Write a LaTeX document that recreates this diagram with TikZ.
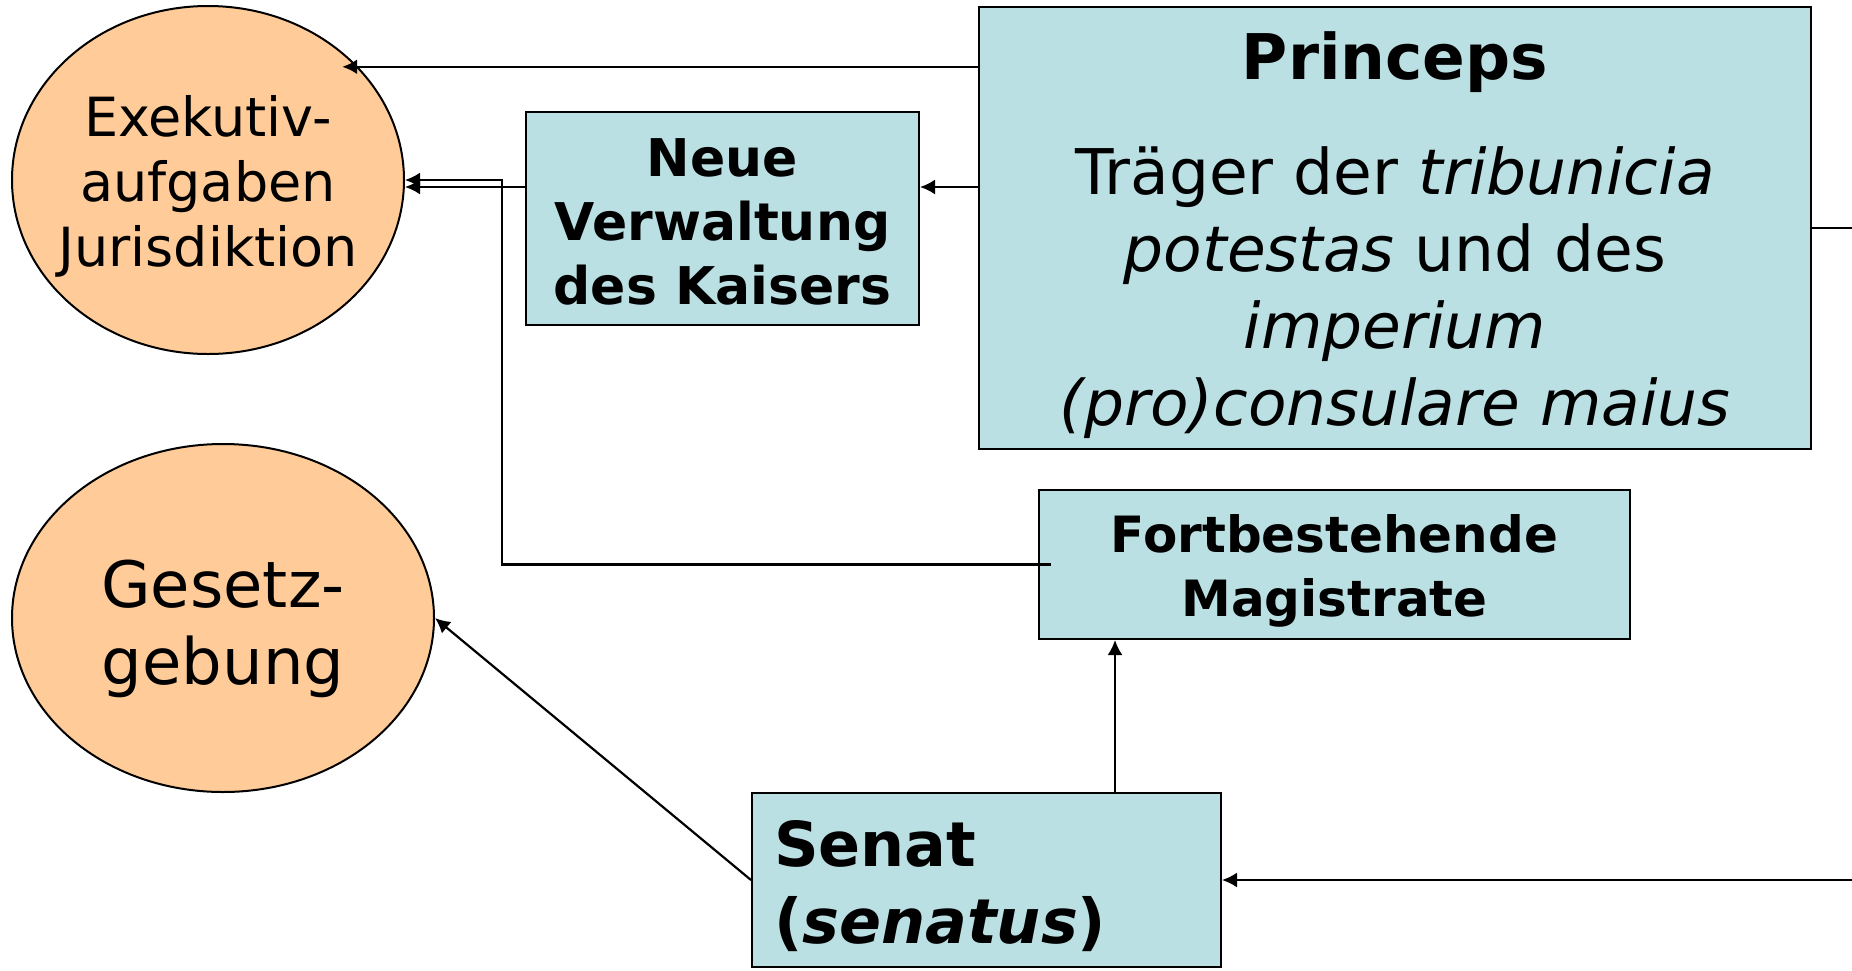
\documentclass[tikz,border=0pt]{standalone}
\usepackage{fontspec}
\setmainfont{DejaVu Sans}
\usetikzlibrary{shapes,arrows.meta}
\definecolor{boxblue}{HTML}{BBE0E3}
\definecolor{peach}{HTML}{FFCC99}
\newcommand{\topgap}[1]{\rule{0pt}{#1}}
\tikzstyle{block} = [rectangle, draw, fill=boxblue, text centered, inner sep=0pt, line width=1pt]
\tikzstyle{line} = [draw, line width=1.1pt, -{Latex[length=7.5pt,width=7.5pt]}]
\tikzstyle{cloud} = [draw, ellipse, fill=peach, inner sep=0pt, line width=1pt, align=center]

\begin{document}
\begin{tikzpicture}[x=0.5pt,y=-0.5pt]
      \useasboundingbox (0,0) rectangle (1852,970);
      \clip (0,0) rectangle (1852,970);

      \node [cloud, inner xsep=-8pt, minimum width=196pt, minimum height=174pt, font=\fontsize{27}{32.5}\selectfont] (exek) at (208,180) {\topgap{26.5pt}Exekutiv-\\aufgaben\\Jurisdiktion};
      \node [cloud, inner xsep=-8pt, minimum width=211pt, minimum height=174pt, font=\fontsize{32}{38.5}\selectfont] (gesetz) at (223,618) {\topgap{35pt}Gesetz-\\gebung};

      \node [block, align=center, minimum width=196.5pt, minimum height=106.5pt, font=\fontsize{26}{32}\selectfont\bfseries] (neue) at (722.5,218.5) {\topgap{22.5pt}Neue\\Verwaltung\\des Kaisers};
      \node [block, align=center, minimum width=416pt, minimum height=221pt, font=\fontsize{31.5}{38.5}\selectfont] (princeps) at (1395,228)
        {\topgap{30.6pt}{\bfseries Princeps}\\[19pt] Träger der \textit{tribunicia}\\ \textit{potestas} und des\\ \textit{imperium}\\ \textit{(pro)consulare maius}};
      \node [block, align=center, minimum width=295.5pt, minimum height=74.5pt, font=\fontsize{25}{32}\selectfont\bfseries] (fort) at (1334.5,564.5) {\topgap{25pt}Fortbestehende\\Magistrate};
      \node [block, align=left, text width=212.5pt, inner xsep=11pt, minimum height=87pt, font=\fontsize{31}{38.5}\selectfont\bfseries] (senat) at (986.5,880) {\topgap{28.6pt}Senat\\(\textit{senatus})};

      \coordinate (knee) at (502,180);
      \coordinate (outside) at (1880,0);

      \path [line, shorten >=-8pt] (princeps.west |- exek.37) -- (exek.37);
      \path [line] ([yshift=15.75pt]neue.east -| princeps.west) -- ([yshift=15.75pt]neue.east);
      \path [line] ([yshift=15.75pt]neue.west) -- ([yshift=15.75pt]neue.west -| exek.east);
      \path [line] ([xshift=6.5pt]fort.west) -| (knee) -- (knee -| exek.east);
      \path [line] ([xshift=64.25pt]senat.north) -- ([xshift=64.25pt]senat.north |- fort.south);
      \path [line] (senat.west) -- (gesetz.east);
      \path [line] (princeps.east) -| (outside |- senat.east) -- (senat.east);

\end{tikzpicture}
\end{document}
